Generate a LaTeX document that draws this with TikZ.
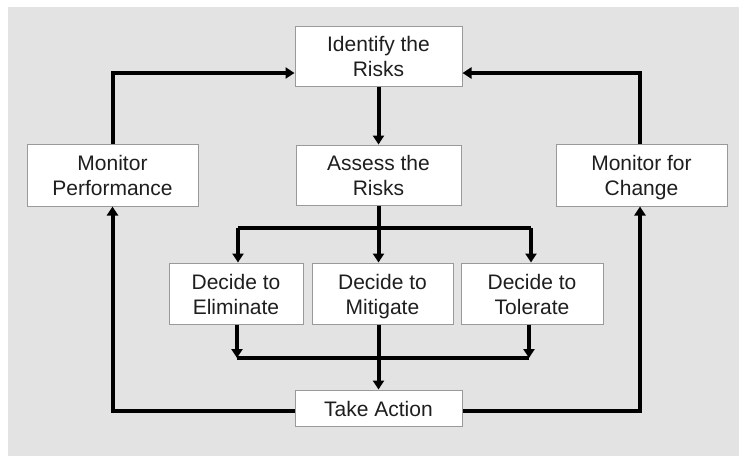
\documentclass[tikz,border=0pt]{standalone}
\usepackage{fontspec}
\setmainfont{Liberation Sans}
\usetikzlibrary{arrows.meta}
\definecolor{panel}{HTML}{E3E3E3}
\definecolor{boxline}{HTML}{9A9A9A}
\definecolor{ink}{HTML}{1E1E1E}
% fixed line struts so every label sits on the same baselines
\newcommand{\topstrut}{\rule{0pt}{24pt}}
\newcommand{\botstrut}{\rule[-8pt]{0pt}{8pt}}
\begin{document}
\begin{tikzpicture}[x=1pt,y=-1pt,
  stepbox/.style={draw=boxline,line width=1pt,fill=white,rectangle,inner sep=0pt,
    align=center,text=ink,font=\fontsize{21}{25}\selectfont},
  flow/.style={line width=4pt,draw=black,line cap=butt,line join=miter},
  tip/.style={-{Triangle[length=9pt,width=11pt]}}]
  % canvas and grey panel
  \useasboundingbox (0,0) rectangle (739,456);
  \fill[white] (0,0) rectangle (739,456);
  \fill[panel] (8,7) rectangle (739,456);

  % process boxes
  \node[stepbox,minimum width=167pt,minimum height=60pt] (ident) at (378.5,56) {\topstrut Identify the\\Risks\botstrut};
  \node[stepbox,minimum width=165pt,minimum height=60pt] (assess) at (378.5,175) {\topstrut Assess the\\Risks\botstrut};
  \node[stepbox,minimum width=171pt,minimum height=62pt] (monperf) at (112.5,175) {\topstrut Monitor\\Performance\botstrut};
  \node[stepbox,minimum width=171pt,minimum height=62pt] (monchg) at (641.5,175) {\topstrut Monitor for\\Change\botstrut};
  \node[stepbox,minimum width=134pt,minimum height=61pt] (elim) at (236,293.5) {\topstrut Decide to\\Eliminate\botstrut};
  \node[stepbox,minimum width=141pt,minimum height=61pt] (mitig) at (382.5,293.5) {\topstrut Decide to\\Mitigate\botstrut};
  \node[stepbox,minimum width=142pt,minimum height=61pt] (toler) at (532,293.5) {\topstrut Decide to\\Tolerate\botstrut};
  \node[stepbox,minimum width=167pt,minimum height=36pt] (action) at (378.5,408) {\rule{0pt}{18pt}Take Action\rule[-2pt]{0pt}{2pt}};

  % junction points
  \coordinate (split) at (378.5,228);
  \coordinate (join) at (378.5,358);
  \coordinate (elimtop) at (238,228);
  \coordinate (toltop) at (531,228);
  \coordinate (elimbot) at (237,358);
  \coordinate (tolbot) at (529,358);

  % identify -> assess
  \draw[flow,tip] (ident.south) -- (assess.north);
  % assess -> three decisions
  \draw[flow] (assess.south) -- (split);
  \draw[flow] (elimtop) -- (toltop);
  \draw[flow,tip] (elimtop) -- (elimtop |- elim.north);
  \draw[flow,tip] (split) -- (split |- mitig.north);
  \draw[flow,tip] (toltop) -- (toltop |- toler.north);
  % decisions -> take action
  \draw[flow,tip] (elimbot |- elim.south) -- (elimbot);
  \draw[flow,tip] (tolbot |- toler.south) -- (tolbot);
  \draw[flow] (elimbot) -- (tolbot);
  \draw[flow,tip] (join |- mitig.south) -- (join |- action.north);
  % feedback loops
  \draw[flow,tip] ([yshift=-3pt]action.west) -| (monperf.south);
  \draw[flow,tip] (monperf.north) |- ([yshift=-17pt]ident.west);
  \draw[flow,tip] ([yshift=-3pt]action.east) -| ([xshift=-1.5pt]monchg.south);
  \draw[flow,tip] ([xshift=-1.5pt]monchg.north) |- ([yshift=-17pt]ident.east);
\end{tikzpicture}
\end{document}
